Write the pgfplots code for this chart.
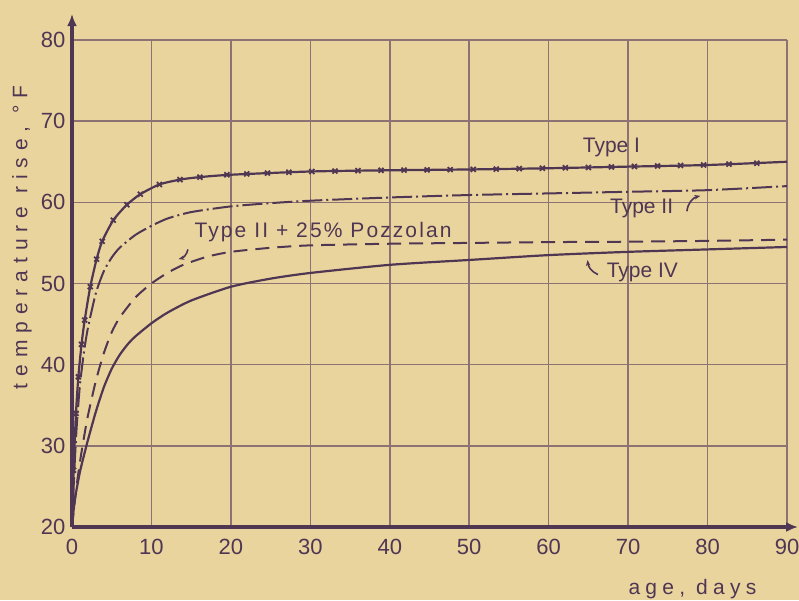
\documentclass[border=0pt]{standalone}
\usepackage{pgfplots}
\pgfplotsset{compat=1.18}
\usepackage{fontspec}
\setmainfont{Liberation Sans}
\usetikzlibrary{arrows.meta}
\definecolor{paper}{HTML}{EAD49E}
\definecolor{ink}{HTML}{4F3653}
\definecolor{gridc}{HTML}{8C7272}

\pgfplotstableread{
x y
0 20
0.2 27
0.5 34
0.8 38.5
1.2 42.5
1.6 45.5
2.3 49.6
3.1 53
3.8 55.2
5.2 57.8
6.9 59.7
8.6 61
11 62.2
13.6 62.8
16 63.1
20 63.4
30 63.8
40 63.95
50 64.05
60 64.2
70 64.4
80 64.6
90 65.0
}\typeI

\pgfplotstableread{
x y
0.2 27
0.5 34
0.8 38.5
1.2 42.5
1.6 45.5
2.3 49.6
3.1 53
3.8 55.2
5.2 57.8
6.9 59.7
8.6 61
11 62.2
13.6 62.8
16.1 63.1
19.5 63.4
22 63.5
24.6 63.6
27.3 63.7
30.2 63.8
33.1 63.85
36 63.9
38.9 63.95
41.8 63.97
44.7 64.0
47.6 64.03
50.5 64.06
53.4 64.1
56.3 64.15
59.2 64.2
62.1 64.26
65 64.3
67.9 64.36
70.8 64.42
73.7 64.48
76.6 64.54
79.5 64.6
82.7 64.7
86.2 64.82
}\typeImarks

\pgfplotstableread{
x y
0 20
0.3 27
0.6 32.5
1 37.5
1.5 41.5
2 44.5
3 48.8
4 51.5
5 53.2
6 54.4
8 56.0
10 57.1
12 58.0
15 58.8
20 59.5
25 59.9
30 60.2
40 60.6
50 60.9
60 61.1
70 61.3
80 61.5
90 62.0
}\typeII

\pgfplotstableread{
x y
0 20
0.5 24.5
1 28
1.5 31
2 33.7
3 38
4 41.4
5 44
6 45.8
8 48.3
10 50
12 51.3
14 52.3
17 53.3
20 53.9
25 54.4
30 54.7
40 54.9
50 55.0
60 55.1
70 55.15
80 55.25
90 55.4
}\typeIIp

\pgfplotstableread{
x y
0 20
0.25 22.5
0.5 24.2
1 26.8
1.5 28.8
2 30.7
3 34.2
4 37.2
5 39.5
6 41.2
7 42.5
8 43.5
10 45.1
12 46.4
15 47.9
20 49.6
25 50.6
30 51.3
40 52.3
50 52.9
60 53.5
70 53.9
80 54.2
90 54.5
}\typeIV

\begin{document}
\begin{tikzpicture}
\fill[paper] (0,0) rectangle (799pt,600pt);
\begin{axis}[
  at={(72pt,73pt)}, anchor=south west,
  scale only axis, width=715pt, height=487pt,
  xmin=0, xmax=90, ymin=20, ymax=80,
  xtick={0,10,...,90}, ytick={20,30,...,80},
  grid=major,
  major grid style={gridc, line width=1.5pt},
  axis line style={draw=none},
  tick style={draw=none},
  tick label style={font=\fontsize{22}{24}\selectfont, text=ink},
  /pgf/number format/assume math mode=true,
  xticklabel style={yshift=-9pt},
  yticklabel style={xshift=-3pt},
  clip=false,
]
\draw[ink, line width=3.5pt, -{Latex[length=12pt,width=10pt]}] (axis cs:0,20) -- (axis cs:91.4,20);
\draw[ink, line width=3.5pt, -{Latex[length=12pt,width=10pt]}] (axis cs:0,20) -- (axis cs:0,83.2);

\addplot[ink, line width=2.2pt, smooth, tension=0.4, no markers] table {\typeI};
\addplot[ink, only marks, mark=x, mark size=3.5pt, mark options={line width=1.8pt}] table {\typeImarks};
\addplot[ink, line width=2pt, smooth, tension=0.4, no markers, dash pattern=on 20pt off 4pt on 2pt off 4pt] table {\typeII};
\addplot[ink, line width=2pt, smooth, tension=0.4, no markers, dash pattern=on 14pt off 8pt] table {\typeIIp};
\addplot[ink, line width=2.2pt, smooth, tension=0.4, no markers] table {\typeIV};

\node[text=ink, font=\fontsize{21}{24}\selectfont] at (axis cs:67.9,66.8) {Type I};
\node[text=ink, font=\fontsize{21}{24}\selectfont] at (axis cs:71.7,59.3) {Type II};
\draw[ink, line width=1.6pt, -{Stealth[length=6pt]}] (axis cs:77.4,58.9) to[bend left=35] (axis cs:79.1,60.8);
\node[text=ink, font=\fontsize{21}{24}\selectfont\addfontfeature{LetterSpace=10}] at (axis cs:31.6,56.3) {Type II + 25\% Pozzolan};
\draw[ink, line width=1.6pt, -{Stealth[length=6pt]}] (axis cs:14.6,54.2) to[bend left=30] (axis cs:13.4,53.0);
\node[text=ink, font=\fontsize{21}{24}\selectfont] at (axis cs:71.8,51.4) {Type IV};
\draw[ink, line width=1.6pt, -{Stealth[length=6pt]}] (axis cs:66.2,51.1) to[bend left=30] (axis cs:64.9,52.9);

\node[text=ink, rotate=90, font=\fontsize{21}{24}\selectfont\addfontfeature{LetterSpace=33}] at ([xshift=-50pt]axis cs:0,55.7) {temperature rise, °F};
\node[text=ink, font=\fontsize{21}{24}\selectfont\addfontfeature{LetterSpace=25}] at ([yshift=-62pt]axis cs:78.1,20) {age, days};
\end{axis}
\pgfresetboundingbox
\useasboundingbox (0,0) rectangle (799pt,600pt);
\end{tikzpicture}
\end{document}
